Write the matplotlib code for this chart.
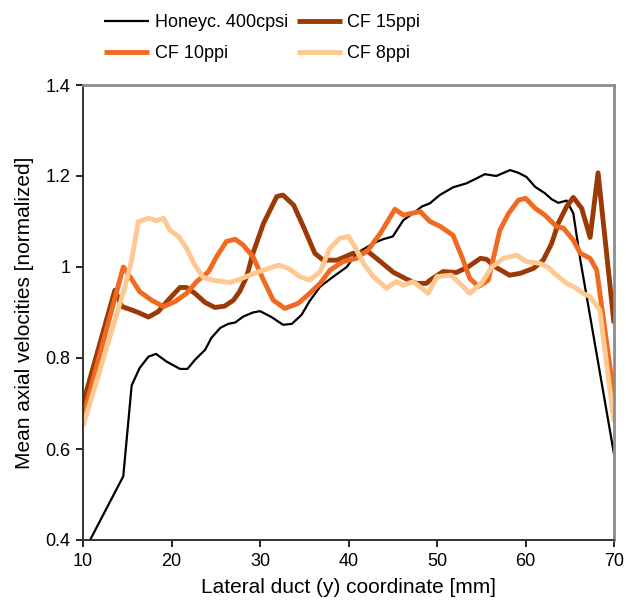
import matplotlib
matplotlib.use("Agg")
import matplotlib.pyplot as plt

plt.rcParams['font.family'] = ['Liberation Sans', 'DejaVu Sans']

# Honeycomb 400 cpsi
hc_x = [10.8, 14.55, 15.5, 16.4, 17.4, 18.25, 19.45, 20.96, 21.8, 22.65, 23.8, 24.5, 25.5,
        26.4, 27.2, 28.1, 29.2, 30.0, 31.3, 32.6, 33.6, 34.7, 35.6, 36.8, 38.3, 39.8, 40.9,
        42.8, 43.9, 45.0, 46.2, 47.3, 48.3, 49.2, 50.3, 51.8, 53.35, 54.5, 55.4, 56.7, 58.25,
        59.2, 60.1, 61.1, 62.2, 62.95, 63.7, 64.65, 65.4, 66.2, 70.0]
hc_y = [0.40, 0.54, 0.74, 0.778, 0.803, 0.809, 0.792, 0.776, 0.776, 0.796, 0.818, 0.844, 0.866,
        0.875, 0.878, 0.891, 0.90, 0.903, 0.89, 0.873, 0.875, 0.895, 0.925, 0.957, 0.979, 1.0, 1.03,
        1.052, 1.061, 1.067, 1.103, 1.118, 1.133, 1.14, 1.158, 1.175, 1.184, 1.195, 1.204, 1.20, 1.213,
        1.207, 1.198, 1.176, 1.162, 1.149, 1.141, 1.146, 1.118, 1.015, 0.589]

# CF 15 ppi
cf15_x = [10.0, 13.6, 14.4, 15.3, 16.25, 17.4, 18.5, 19.8, 20.96, 21.7, 22.65, 23.8, 24.9, 26.0,
          27.0, 27.7, 28.5, 29.2, 30.4, 31.9, 32.6, 33.8, 34.9, 36.2, 37.15, 38.7, 40.5, 42.2,
          43.6, 45.1, 46.6, 47.7, 48.8, 49.2, 50.7, 52.2, 53.5, 54.9, 55.6, 56.6, 58.2, 59.4,
          60.9, 62.0, 62.96, 63.7, 64.65, 65.4, 66.35, 67.3, 68.2, 70.0]
cf15_y = [0.70, 0.949, 0.913, 0.907, 0.90, 0.89, 0.902, 0.931, 0.955, 0.955, 0.942, 0.922, 0.911, 0.914,
          0.927, 0.946, 0.979, 1.03, 1.096, 1.155, 1.158, 1.136, 1.089, 1.03, 1.015, 1.015, 1.03, 1.034,
          1.012, 0.988, 0.973, 0.964, 0.964, 0.971, 0.99, 0.988, 1.0, 1.019, 1.017, 1.0, 0.982, 0.986,
          0.997, 1.015, 1.052, 1.096, 1.133, 1.153, 1.129, 1.065, 1.207, 0.876]

# CF 10 ppi
cf10_x = [10.0, 14.55, 15.3, 16.4, 17.75, 19.1, 20.4, 21.7, 22.85, 24.2, 25.1, 26.2, 27.2, 28.1,
          29.2, 30.4, 31.5, 32.8, 34.3, 35.6, 36.8, 37.9, 39.4, 40.9, 42.2, 43.6, 44.5, 45.25,
          46.2, 48.1, 49.2, 50.3, 51.8, 52.8, 53.7, 54.7, 55.8, 57.1, 58.1, 59.2, 60.0, 61.1,
          62.2, 63.5, 64.3, 65.4, 66.2, 67.3, 68.05, 70.0]
cf10_y = [0.67, 1.0, 0.979, 0.946, 0.927, 0.913, 0.924, 0.942, 0.968, 0.99, 1.023, 1.056, 1.061, 1.048,
          1.023, 0.971, 0.927, 0.909, 0.92, 0.942, 0.964, 0.993, 1.012, 1.019, 1.037, 1.074, 1.103, 1.127,
          1.114, 1.122, 1.1, 1.09, 1.07, 1.023, 0.975, 0.957, 0.971, 1.081, 1.118, 1.147, 1.151, 1.129,
          1.114, 1.089, 1.085, 1.059, 1.03, 1.019, 0.993, 0.715]

# CF 8 ppi
cf8_x = [10.0, 14.75, 15.5, 16.25, 17.4, 18.3, 19.1, 19.8, 20.8, 21.7, 22.65, 23.6, 24.7, 26.6,
         27.7, 29.6, 32.1, 33.2, 34.5, 35.6, 36.8, 37.9, 39.0, 40.0, 40.7, 41.7, 42.8, 44.3,
         45.4, 46.2, 47.3, 48.3, 49.0, 50.0, 51.6, 52.8, 53.7, 55.0, 56.2, 57.5, 59.0, 60.1,
         61.6, 62.5, 63.5, 64.65, 65.6, 66.5, 67.3, 68.4, 70.0]
cf8_y = [0.65, 0.957, 1.015, 1.10, 1.107, 1.102, 1.107, 1.081, 1.067, 1.041, 1.004, 0.977, 0.971, 0.966,
         0.973, 0.988, 1.004, 0.997, 0.979, 0.971, 0.99, 1.041, 1.063, 1.067, 1.045, 1.008, 0.979, 0.953,
         0.968, 0.96, 0.968, 0.953, 0.942, 0.979, 0.982, 0.96, 0.942, 0.964, 1.0, 1.019, 1.026, 1.012,
         1.008, 1.0, 0.982, 0.964, 0.955, 0.942, 0.935, 0.905, 0.66]

labels = ['Honeyc. 400cpsi', 'CF 15ppi', 'CF 10ppi', 'CF 8ppi']
x_ticks = [10, 20, 30, 40, 50, 60, 70]
y_ticks = [0.4, 0.6, 0.8, 1.0, 1.2, 1.4]
y_ticklabels = ['0.4', '0.6', '0.8', '1', '1.2', '1.4']

colors = ['black', '#9c3a06', '#f26a21', '#fdc990']
widths = [1.6, 3.5, 3.5, 3.5]

fig = plt.figure(figsize=(6.26, 6.02), dpi=100)
ax = fig.add_axes([83/626, 1-540/602, (614-83)/626, (540-85)/602])

series = [(hc_x, hc_y), (cf15_x, cf15_y), (cf10_x, cf10_y), (cf8_x, cf8_y)]
handles = []
for (xs, ys), c, w, lab in zip(series, colors, widths, labels):
    h, = ax.plot(xs, ys, color=c, lw=w, label=lab, solid_joinstyle='round', solid_capstyle='butt')
    handles.append(h)

ax.set_xlim(10, 70)
ax.set_ylim(0.4, 1.4)
ax.set_xticks(x_ticks)
ax.set_yticks(y_ticks)
ax.set_yticklabels(y_ticklabels)
ax.tick_params(direction='out', length=5, width=1.2, labelsize=13, colors='black', pad=4)
for s in ['left', 'bottom']:
    ax.spines[s].set_color('#333333')
    ax.spines[s].set_linewidth(1.4)
for s in ['top', 'right']:
    ax.spines[s].set_color('#8c8c8c')
    ax.spines[s].set_linewidth(2.0)

ax.set_xlabel('Lateral duct (y) coordinate [mm]', fontsize=15, labelpad=6)
ax.set_ylabel('Mean axial velocities [normalized]', fontsize=15, labelpad=8)

order = [0, 2, 1, 3]
fig.legend([handles[i] for i in order], [labels[i] for i in order], ncol=2, frameon=False,
           loc='upper left', bbox_to_anchor=(95/626, 1-5/602), fontsize=13,
           handlelength=2.5, handletextpad=0.3, columnspacing=0.5, labelspacing=0.8, borderpad=0)

fig.savefig('out.png', dpi=100)
